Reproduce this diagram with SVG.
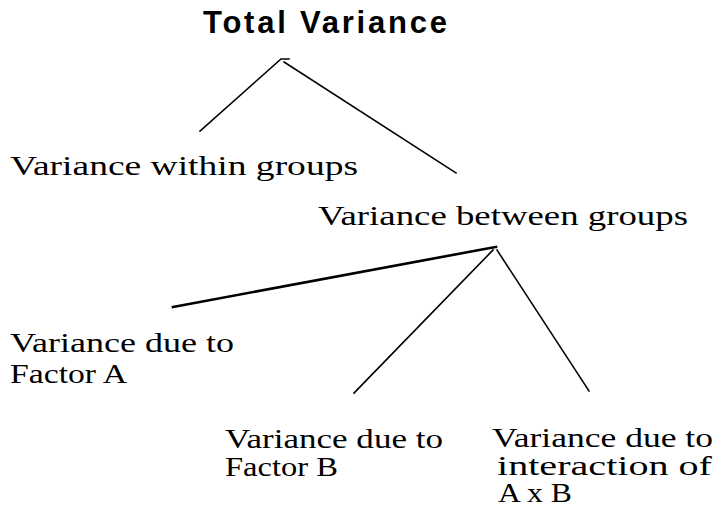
<svg xmlns="http://www.w3.org/2000/svg" width="717" height="518" viewBox="0 0 717 518">
<style>
.t{font-family:"Liberation Serif","Times New Roman",serif;font-size:27px;fill:#000}
.title{font-family:"Liberation Sans",Arial,sans-serif;font-weight:bold;font-size:31px;fill:#000}
.c{stroke:#000;stroke-width:1.6;fill:none;stroke-linecap:square}
.thick{stroke-width:2.6}
</style>
<rect width="717" height="518" fill="#fff"/>
<g id="connectors">
<polyline class="c" points="200,131 281,59 289,59"/>
<line class="c" x1="284" y1="62" x2="456" y2="173"/>
<polyline class="c thick" points="173,307 490,248 496,247"/>
<line class="c" x1="493" y1="250" x2="354" y2="393"/>
<line class="c" x1="497" y1="250" x2="589" y2="391"/>
</g>
<g id="total"><text class="title" x="203" y="33" textLength="244" lengthAdjust="spacing">Total Variance</text></g>
<g id="within"><text class="t" x="10" y="175" textLength="348" lengthAdjust="spacingAndGlyphs">Variance within groups</text></g>
<g id="between"><text class="t" x="318" y="225" textLength="370" lengthAdjust="spacingAndGlyphs">Variance between groups</text></g>
<g id="factorA">
<text class="t" x="10" y="352" textLength="224" lengthAdjust="spacingAndGlyphs">Variance due to</text>
<text class="t" x="10" y="383" textLength="117" lengthAdjust="spacingAndGlyphs">Factor A</text>
</g>
<g id="factorB">
<text class="t" x="225" y="448" textLength="218" lengthAdjust="spacingAndGlyphs">Variance due to</text>
<text class="t" x="225" y="476" textLength="113" lengthAdjust="spacingAndGlyphs">Factor B</text>
</g>
<g id="interaction">
<text class="t" x="492" y="447" textLength="221" lengthAdjust="spacingAndGlyphs">Variance due to</text>
<text class="t" x="497" y="475" textLength="215" lengthAdjust="spacingAndGlyphs">interaction of</text>
<text class="t" x="498" y="502" textLength="74" lengthAdjust="spacingAndGlyphs">A x B</text>
</g>
</svg>
